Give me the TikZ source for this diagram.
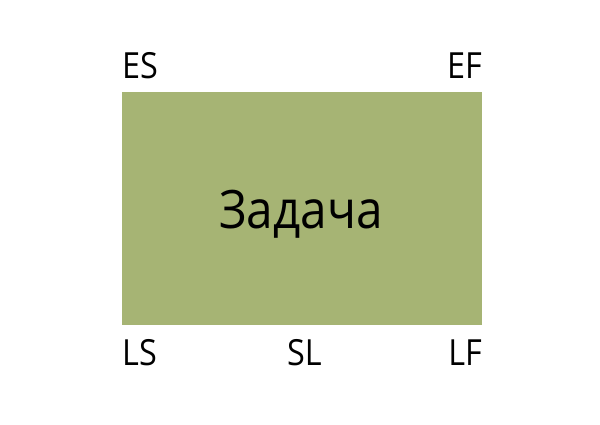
\documentclass[tikz,border=0pt]{standalone}
\usepackage{fontspec}
\setmainfont{Open Sans}[FakeStretch=0.9]
\definecolor{taskgreen}{RGB}{166,180,116}
\begin{document}
\begin{tikzpicture}[x=1pt,y=-1pt,
  lbl/.style={inner sep=0pt,font=\fontsize{36}{40}\selectfont},
  ttl/.style={inner sep=0pt,font=\fontsize{53}{60}\selectfont}]
\useasboundingbox (0,0) rectangle (600,425);
\fill[taskgreen] (122,92) rectangle (482,325);
\node[ttl,anchor=base] (task) at (301,228) {Задача};
\node[lbl,anchor=base west] (es) at (122,79) {ES};
\node[lbl,anchor=base east] (ef) at (482,79) {EF};
\node[lbl,anchor=base west] (ls) at (122,365) {LS};
\node[lbl,anchor=base] (sl) at (304.5,365) {SL};
\node[lbl,anchor=base east] (lf) at (482,365) {LF};
\end{tikzpicture}
\end{document}
